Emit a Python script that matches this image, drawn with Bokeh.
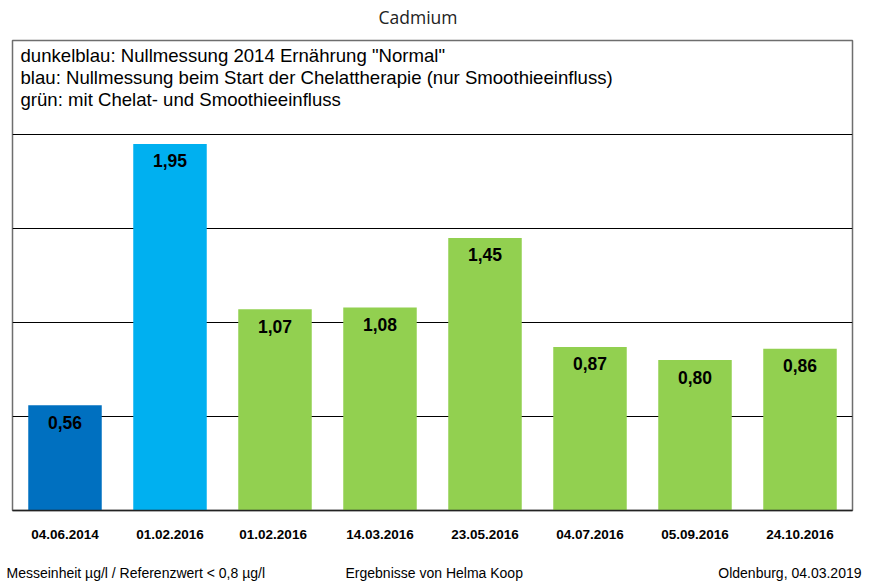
from bokeh.plotting import figure
from bokeh.models import ColumnDataSource, FactorRange, Range1d, Grid, FixedTicker
from bokeh.layouts import column
from bokeh.core.properties import value
from bokeh.embed import file_html
from bokeh.resources import INLINE

title_text = "Cadmium"
dates = ["04.06.2014", "01.02.2016", "01.02.2016 ", "14.03.2016", "23.05.2016",
         "04.07.2016", "05.09.2016", "24.10.2016"]
values = [0.56, 1.95, 1.07, 1.08, 1.45, 0.87, 0.80, 0.86]
colors = ["#0070C0", "#00B0F0", "#92D050", "#92D050", "#92D050", "#92D050", "#92D050", "#92D050"]
legend_lines = [
    'dunkelblau: Nullmessung 2014 Ernährung "Normal"',
    "blau: Nullmessung beim Start der Chelattherapie (nur Smoothieeinfluss)",
    "grün: mit Chelat- und Smoothieeinfluss",
]
footer_left = "Messeinheit µg/l / Referenzwert < 0,8 µg/l"
footer_mid = "Ergebnisse von Helma Koop"
footer_right = "Oldenburg, 04.03.2019"
grid_ticks = [0.5, 1.0, 1.5, 2.0]

W = 866


def text_panel(h):
    f = figure(width=W, height=h, output_backend="svg", toolbar_location=None,
               x_range=Range1d(0, W), y_range=Range1d(h, 0),
               x_axis_location=None, y_axis_location=None, min_border=0)
    f.xgrid.visible = False
    f.ygrid.visible = False
    f.outline_line_color = None
    f.frame_align = False
    return f


# header
header = text_panel(30)
header.text(x=[417.5], y=[16], text=[title_text], text_align="center", text_baseline="middle",
            text_font=value("Open Sans"), text_font_size="17.5px", text_color="#222222")

# main chart (frame 470px tall: 0..2.5)
labels = [f"{v:.2f}".replace(".", ",") for v in values]
src = ColumnDataSource(dict(x=dates, top=values, color=colors, label=labels))

p = figure(width=W, height=520, output_backend="svg", toolbar_location=None,
           x_range=FactorRange(factors=dates, range_padding=0),
           y_range=Range1d(0, 2.5), y_axis_location=None,
           min_border_left=12, min_border_right=14, min_border_top=10, min_border_bottom=40)
p.frame_align = False
p.xgrid.visible = False
p.ygrid.visible = False
p.add_layout(Grid(dimension=1, ticker=FixedTicker(ticks=grid_ticks),
                  grid_line_color="black", grid_line_width=1))
p.outline_line_color = "#6e6e6e"
p.outline_line_width = 1.5

p.vbar(x="x", top="top", width=0.7, bottom=0, fill_color="color", line_color=None, source=src)
p.text(x="x", y="top", text="label", source=src, y_offset=17, text_align="center",
       text_baseline="middle", text_font=value("Liberation Sans"), text_font_style="bold",
       text_font_size="17.5px", text_color="black")

ax = p.xaxis[0]
ax.axis_line_color = "#222222"
ax.axis_line_width = 1.5
ax.major_tick_line_color = None
ax.minor_tick_line_color = None
ax.major_label_text_font = "Liberation Sans"
ax.major_label_text_font_style = "bold"
ax.major_label_text_font_size = "13.5px"
ax.major_label_text_color = "black"
ax.major_label_standoff = 10

# legend text inside the plot frame (470px for 2.5 units)
leg_y = [2.5 - (15 + 22 * i) / 188.0 for i in range(len(legend_lines))]
p.text(x=[0.076] * 3, y=leg_y, text=legend_lines, text_align="left", text_baseline="middle",
       text_font=value("Liberation Sans"), text_font_size="18.6px", text_color="black")

# footer
footer = text_panel(34)
footer.text(x=[6, 345], y=[22, 22], text=[footer_left, footer_mid], text_align="left",
            text_baseline="middle", text_font=value("Liberation Sans"), text_font_size="14px",
            text_color="black")
footer.text(x=[861], y=[22], text=[footer_right], text_align="right",
            text_baseline="middle", text_font=value("Liberation Sans"), text_font_size="14px",
            text_color="black")

layout = column(header, p, footer, spacing=0)
open("out.html", "w").write(file_html(layout, INLINE))
